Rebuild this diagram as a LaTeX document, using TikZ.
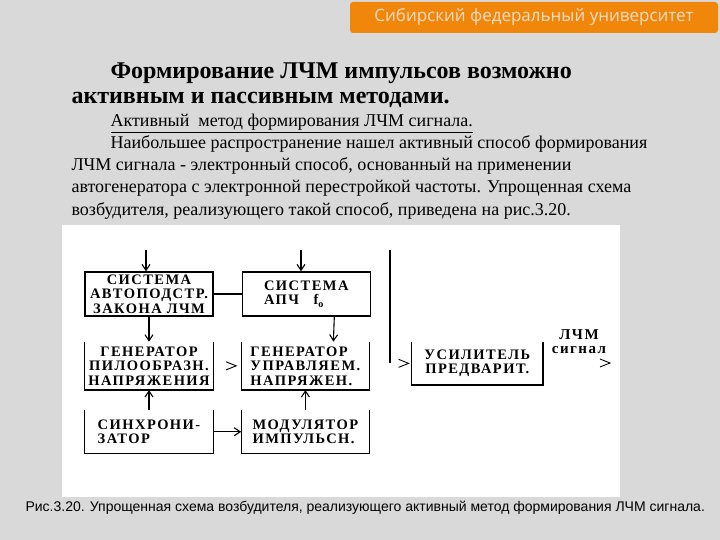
\documentclass[tikz,border=0pt]{standalone}
\usepackage{fontspec}
\setmainfont{Liberation Serif}
\newfontfamily\diagfont[LetterSpace=10]{Liberation Serif}
\newfontfamily\capfont{Liberation Sans}
\newfontfamily\headfont{Open Sans}
\usetikzlibrary{arrows.meta,positioning}
\definecolor{slidegray}{RGB}{217,217,217}
\definecolor{headorange}{RGB}{240,134,10}
\definecolor{headtext}{RGB}{245,222,196}

\begin{document}
\begin{tikzpicture}[
  x=1pt, y=-1pt,
  node distance=26pt,
  blk/.style={minimum width=128pt, minimum height=#1, inner xsep=2pt, inner ysep=0pt,
    font=\diagfont\bfseries\fontsize{14.5}{14.5}\selectfont, align=center},
  box/.style={blk=#1, draw, line width=1.3pt},
  obox/.style={blk=#1},
  wire/.style={line width=1.3pt},
  arr/.style={-{Straight Barb[length=6pt,width=8pt]}, line width=1.1pt},
  txt/.style={anchor=base west, font=\fontsize{18}{22}\selectfont},
  ttl/.style={anchor=base west, font=\bfseries\fontsize{24}{26}\selectfont},
  chev/.pic={\draw[line width=0.9pt] (-10pt,4pt) -- (0pt,0pt) -- (-10pt,-4pt);},
]
  \useasboundingbox (0,0) rectangle (720,540);
  \fill[slidegray] (0,0) rectangle (720,540);

  % header
  \node[fill=headorange, rounded corners=3pt, minimum width=368pt, minimum height=31pt,
    text=headtext, font=\headfont\fontsize{17}{17}\selectfont] (head) at (534,17.5)
    {Сибирский федеральный университет};

  % text of the slide
  \node[ttl] (ttl1) at (107,79) {Формирование ЛЧМ импульсов возможно};
  \node[ttl] (ttl2) at (68,104) {активным и пассивным методами.};
  \node[txt] (sub) at (107,127) {\underline{Активный\ \ метод формирования ЛЧМ сигнала.}};
  \node[txt] (par1) at (107,149) {Наибольшее распространение нашел активный способ формирования};
  \node[txt] (par2) at (68,171) {ЛЧМ сигнала - электронный способ, основанный на применении};
  \node[txt] (par3) at (68,193) {автогенератора с электронной перестройкой частоты. Упрощенная схема};
  \node[txt] (par4) at (68,215) {возбудителя, реализующего такой способ, приведена на рис.3.20.};

  % figure
  \fill[white] (62,225) rectangle (620,497);

  \node[box=44pt] (sysl) at (149,294) {СИСТЕМА\\АВТОПОДСТР.\\ЗАКОНА ЛЧМ};
  \node[box=44pt, right=28pt of sysl, align=left] (sapch) {СИСТЕМА\\АПЧ\quad f\textsubscript{o}};
  \node[obox=48pt, below=25pt of sysl] (gpil) {ГЕНЕРАТОР\\ПИЛООБРАЗН.\\НАПРЯЖЕНИЯ};
  \node[obox=48pt, right=28pt of gpil, align=left] (gupr) {ГЕНЕРАТОР\\УПРАВЛЯЕМ.\\НАПРЯЖЕН.};
  \node[obox=43pt, below=20pt of gpil, align=left] (sync) {СИНХРОНИ-\\ЗАТОР};
  \node[obox=43pt, right=28pt of sync, align=left] (modu) {МОДУЛЯТОР\\ИМПУЛЬСН.};
  \node[obox=43pt, minimum width=131pt, right=42pt of gupr, yshift=2.5pt] (usil) {УСИЛИТЕЛЬ\\ПРЕДВАРИТ.};
  \node[font=\diagfont\bfseries\fontsize{15}{14}\selectfont, align=center] (sig) at (579,342) {ЛЧМ\\сигнал};

  \foreach \b in {gpil,gupr,sync,modu,usil}
    \draw[wire] (\b.north west) -- (\b.south west) -- (\b.south east) -- (\b.north east);

  \coordinate (in1) at (146,250);
  \coordinate (in2) at (301,250);
  \coordinate (vtop) at (390,250);
  \coordinate (vbot) at (390,363);
  \coordinate (out) at (610,363);

  \draw[arr] (in1) -- (in1 |- sysl.north);
  \draw[arr] (in2) -- (in2 |- sapch.north);
  \draw[wire] (sysl) -- (sapch);
  \draw[arr] (sysl.south) -- (gpil.north);
  \draw[arr] ([xshift=28pt]sapch.south) -- ([xshift=28pt]gupr.north);
  \draw[arr] (sync) -- (gpil);
  \draw[arr] (modu) -- (gupr);
  \draw[arr] (sync) -- (modu);
  \draw[wire] (vtop) -- (vbot);

  \pic at ([xshift=-5pt]gupr.west) {chev};
  \pic at ([xshift=-3pt]usil.west) {chev};
  \pic at (out) {chev};

  % caption
  \node[anchor=base west, font=\capfont\fontsize{14}{14}\selectfont] (capt) at (22,511)
    {Рис.3.20. Упрощенная схема возбудителя, реализующего активный метод формирования ЛЧМ сигнала.};
\end{tikzpicture}
\end{document}
